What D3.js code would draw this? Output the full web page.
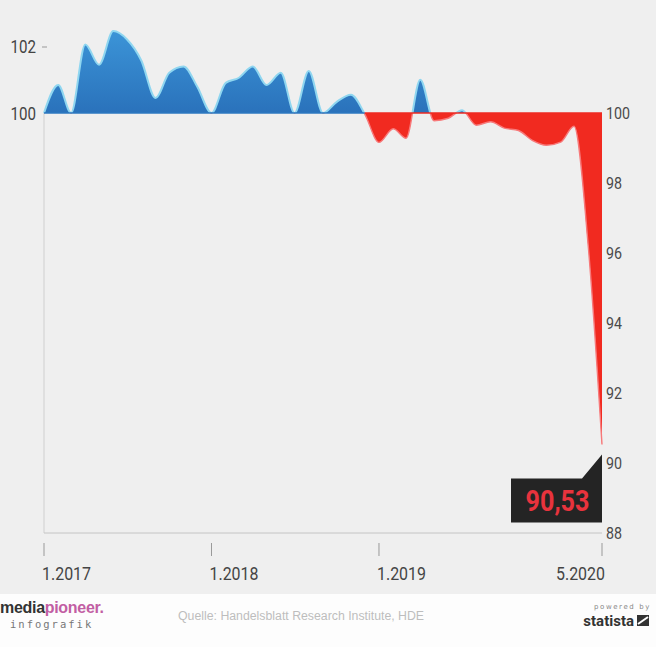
<!DOCTYPE html>
<html><head><meta charset="utf-8">
<script src="https://cdn.jsdelivr.net/npm/d3@7/dist/d3.min.js"></script>
<style>
html,body{margin:0;padding:0;background:#efefef;}
svg{display:block;}
</style></head>
<body>
<svg id="c" width="656" height="647"></svg>
<script>
const months = ["2017-01","2017-02","2017-03","2017-04","2017-05","2017-06","2017-07","2017-08","2017-09","2017-10","2017-11","2017-12",
"2018-01","2018-02","2018-03","2018-04","2018-05","2018-06","2018-07","2018-08","2018-09","2018-10","2018-11","2018-12",
"2019-01","2019-02","2019-03","2019-04","2019-05","2019-06","2019-07","2019-08","2019-09","2019-10","2019-11","2019-12",
"2020-01","2020-02","2020-03","2020-04","2020-05"];
const values = [100.0,100.8,100.0,101.96,101.38,102.34,102.1,101.5,100.43,101.15,101.33,100.75,
100.0,100.86,101.0,101.33,100.8,101.15,100.0,101.2,100.0,100.32,100.52,99.97,
99.16,99.55,99.28,100.95,99.78,99.85,100.08,99.65,99.75,99.57,99.5,99.22,
99.08,99.17,99.62,96.2,90.53];
const baseValue = 100;
const rightTicks = [100,98,96,94,92,90,88];
const leftTicks = [102,100];
const xTickMonths = ["2017-01","2018-01","2019-01","2020-05"];
const xTickLabels = ["1.2017","1.2018","1.2019","5.2020"];
const lastLabel = "90,53";
const sourceText = "Quelle: Handelsblatt Research Institute, HDE";

const parse = d3.timeParse("%Y-%m");
const data = months.map((m,i)=>({d:parse(m), v:values[i]}));

const svg = d3.select("#c");
const x = d3.scaleTime().domain(d3.extent(data,d=>d.d)).range([44,602]);
const y = d3.scaleLinear().domain([88,100]).range([533,113]);

const font = "'Roboto',sans-serif";
const sx = 0.84;
function ctext(sel, tx, ty){ return sel.attr("transform",`translate(${tx},${ty}) scale(${sx},1)`); }

// background
svg.append("rect").attr("width",656).attr("height",594).attr("fill","#efefef");
svg.append("rect").attr("y",594).attr("width",656).attr("height",53).attr("fill","#fdfdfd");

const defs = svg.append("defs");
const g1 = defs.append("linearGradient").attr("id","gb").attr("x1",0).attr("x2",0)
  .attr("gradientUnits","userSpaceOnUse").attr("y1",y(102.4)).attr("y2",y(100));
g1.append("stop").attr("offset","0%").attr("stop-color","#3c95d8");
g1.append("stop").attr("offset","100%").attr("stop-color","#2a72bb");
defs.append("clipPath").attr("id","above").append("rect")
  .attr("x",0).attr("y",0).attr("width",656).attr("height",y(baseValue));
defs.append("clipPath").attr("id","below").append("rect")
  .attr("x",0).attr("y",y(baseValue)).attr("width",656).attr("height",600);

// axes lines
svg.append("line").attr("x1",x.range()[0]).attr("x2",x.range()[0]).attr("y1",y(100)).attr("y2",y(88))
  .attr("stroke","#cfcfcf").attr("stroke-width",1);
svg.append("line").attr("x1",x.range()[0]).attr("x2",x.range()[1]).attr("y1",y(88)).attr("y2",y(88))
  .attr("stroke","#c4c4c4").attr("stroke-width",1);

const curve = d3.curveMonotoneX;
const area = d3.area().curve(curve).x(d=>x(d.d)).y0(y(baseValue)).y1(d=>y(d.v));
const line = d3.line().curve(curve).x(d=>x(d.d)).y(d=>y(d.v));

svg.append("path").datum(data).attr("d",area).attr("fill","url(#gb)").attr("clip-path","url(#above)");
svg.append("path").datum(data).attr("d",area).attr("fill","#f12a20").attr("clip-path","url(#below)");
svg.append("path").datum(data).attr("d",line).attr("fill","none").attr("stroke","#8fd6f0")
  .attr("stroke-width",2).attr("clip-path","url(#above)");
svg.append("path").datum(data).attr("d",line).attr("fill","none").attr("stroke","#f7797a")
  .attr("stroke-width",1.4).attr("clip-path","url(#below)");
// baseline
svg.append("line").attr("x1",x(parse("2017-01"))).attr("x2",x(parse("2018-12"))).attr("y1",y(100)).attr("y2",y(100))
  .attr("stroke","#2c78c0").attr("stroke-width",1.5);
svg.append("line").attr("x1",x(parse("2018-12"))).attr("x2",x.range()[1]).attr("y1",y(100)).attr("y2",y(100))
  .attr("stroke","#ee2a22").attr("stroke-width",1.5);

// right axis labels
rightTicks.forEach(d=>{
  ctext(svg.append("text"),606,y(d)).attr("dy","0.36em")
    .attr("font-family",font).attr("font-size",17).attr("fill","#4a4a4a").text(d);
});
// left axis labels
leftTicks.forEach(d=>{
  ctext(svg.append("text"),36,y(d)+(d===102?4:1)).attr("dy","0.36em").attr("text-anchor","end")
    .attr("font-family",font).attr("font-size",18).attr("fill","#444").text(d);
});
svg.append("line").attr("x1",42).attr("x2",47).attr("y1",y(102)+4).attr("y2",y(102)+4)
  .attr("stroke","#999").attr("stroke-width",1);

// x ticks
xTickMonths.forEach((m,i)=>{
  const xx = x(parse(m));
  const lastT = i===xTickMonths.length-1;
  svg.append("line").attr("x1",xx).attr("x2",xx).attr("y1",543).attr("y2",556)
    .attr("stroke","#999").attr("stroke-width",1);
  ctext(svg.append("text"), lastT ? xx+3 : xx-2, 573).attr("dy","0.36em")
    .attr("text-anchor", lastT ? "end":"start")
    .attr("font-family",font).attr("font-size",19).attr("fill","#444").text(xTickLabels[i]);
});

// last value label
const last = data[data.length-1];
const lx = x(last.d), ly = y(last.v);
const boxTop = ly+34, boxBot = ly+78, boxLeft = lx-91;
svg.append("path").attr("d",`M${boxLeft},${boxTop}H${lx-20}L${lx},${ly+10}V${boxBot}H${boxLeft}Z`).attr("fill","#242424");
ctext(svg.append("text"),(boxLeft+lx)/2+1,(boxTop+boxBot)/2).attr("dy","0.36em")
  .attr("text-anchor","middle").attr("font-family",font).attr("font-weight","bold").attr("font-size",30)
  .attr("fill","#e8333d").text(lastLabel);

// footer
const logo = svg.append("text").attr("x",0).attr("y",613).attr("font-family","'Liberation Sans','Arial',sans-serif")
  .attr("font-size",16).attr("font-weight","bold").attr("letter-spacing",-0.3);
logo.append("tspan").attr("fill","#333").text("media");
logo.append("tspan").attr("fill","#c25ea3").text("pioneer.");
svg.append("text").attr("x",10).attr("y",628).attr("font-family","'DejaVu Sans Mono',monospace")
  .attr("font-size",10.5).attr("letter-spacing",2).attr("fill","#777").text("infografik");
svg.append("text").attr("x",178).attr("y",620).attr("font-family","'Liberation Sans',Arial,sans-serif")
  .attr("font-size",12.3).attr("fill","#bdbdbd").text(sourceText);
svg.append("text").attr("x",651).attr("y",609).attr("text-anchor","end").attr("font-family","'DejaVu Sans',sans-serif")
  .attr("font-size",7).attr("letter-spacing",1.6).attr("fill","#888").text("powered by");
svg.append("text").attr("x",634).attr("y",626).attr("text-anchor","end").attr("font-family",font)
  .attr("font-size",15).attr("font-weight","bold").attr("fill","#333").text("statista");
svg.append("rect").attr("x",637).attr("y",615).attr("width",12).attr("height",11).attr("fill","#333");
svg.append("path").attr("d","M638,624L648,617").attr("stroke","#fff").attr("stroke-width",2);
</script>
</body></html>
